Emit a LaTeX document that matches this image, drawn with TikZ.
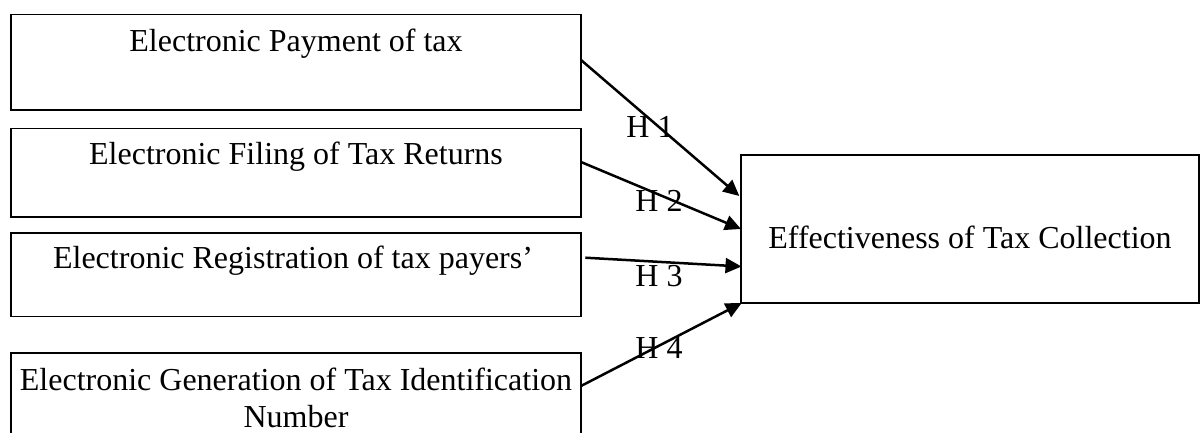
\documentclass[tikz,border=0pt]{standalone}
\usepackage{fontspec}
\setmainfont{Liberation Serif}
\usetikzlibrary{calc,arrows.meta}
\begin{document}
\begin{tikzpicture}[x=1pt,y=-1pt,
  box/.style={draw=black,line width=1.6pt,rectangle,inner sep=0pt,outer sep=0pt,anchor=north west},
  txt/.style={font=\fontsize{32}{36.6}\selectfont,inner sep=0pt},
  hyp/.style={font=\fontsize{32}{36.6}\selectfont,inner sep=0pt,anchor=base},
  link/.style={line width=2.5pt,-{Triangle[length=16pt,width=15pt]}}]
\useasboundingbox (0,0) rectangle (1203,433);
\begin{scope}
\clip (0,0) rectangle (1203,433);
\node[box,minimum width=570pt,minimum height=95.3pt] (b1) at (11,14.7) {};
\node[box,minimum width=570pt,minimum height=88.6pt] (b2) at (11,128.7) {};
\node[box,minimum width=570pt,minimum height=83.3pt] (b3) at (11,233) {};
\node[box,minimum width=570pt,minimum height=100pt] (b4) at (11,353) {};
\node[box,minimum width=458pt,minimum height=148pt] (R) at (741,155) {};
\node[txt,anchor=base] (t1) at (296,51.7) {Electronic Payment of tax};
\node[txt,anchor=base] (t2) at (296,165) {Electronic Filing of Tax Returns};
\node[txt,anchor=base] (t3) at (293,269) {Electronic Registration of tax payers’};
\node[txt,anchor=north,align=center] (t4) at (296,367.8) {Electronic Generation of Tax Identification\\Number};
\node[txt,anchor=base] (tr) at (970,248) {Effectiveness of Tax Collection};
\node[hyp] (h1) at (650,137.7) {H 1};
\node[hyp] (h2) at (659,211.7) {H 2};
\node[hyp] (h3) at (659,286) {H 3};
\node[hyp] (h4) at (659,358.3) {H 4};
\draw[link] ($(b1.north east)+(0,45.3)$) -- ($(R.north west)+(-1.7,41)$);
\draw[link] ($(b2.north east)+(0.7,33.6)$) -- (R.west);
\draw[link] ($(b3.north east)+(4.3,24.7)$) -- ($(R.north west)+(0.5,111.5)$);
\draw[link] ($(b4.north east)+(0,33)$) -- ($(R.south west)+(0.7,0)$);
\end{scope}
\end{tikzpicture}
\end{document}
